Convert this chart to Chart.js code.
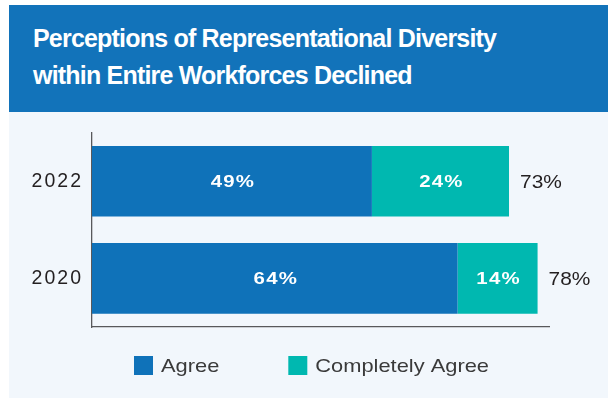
<!DOCTYPE html>
<html>
<head>
<meta charset="utf-8">
<script src="https://cdn.jsdelivr.net/npm/chart.js@4.4.0/dist/chart.umd.min.js"></script>
<style>
body{margin:0;background:#fff;width:608px;height:398px;overflow:hidden;position:relative;font-family:"Liberation Sans",Arial,sans-serif;}
#title{position:absolute;left:9px;top:5px;width:575px;height:92px;padding:15px 0 0 24px;background:#1273ba;color:#fff;font-weight:bold;font-size:25px;letter-spacing:-0.8px;line-height:36.5px;}
#wrap{position:absolute;left:9px;top:112px;width:599px;height:286px;background:#f2f7fc;}
</style>
</head>
<body>
<div id="title">Perceptions of Representational Diversity<br>within Entire Workforces Declined</div>
<div id="wrap"><canvas id="chart"></canvas></div>
<script>
// values
const years = ['2022', '2020'];
const agree = [49, 64];
const completelyAgree = [24, 14];
const totals = [73, 78];
const seriesNames = ['Agree', 'Completely Agree'];
const seriesColors = ['#0f72b9', '#00b8b0'];

const FONT = '"Liberation Sans", Arial, sans-serif';

// the source font is wider than Arial, so stretch our own text a bit
function wideText(ctx, text, x, y, sx){
  ctx.save();
  ctx.translate(x, y);
  ctx.scale(sx, 1);
  ctx.fillText(text, 0, 0);
  ctx.restore();
}

// value labels, totals and the legend row
const labelPlugin = {
  id: 'labels',
  beforeUpdate(chart){ chart.ctx.letterSpacing = '2px'; },
  beforeDraw(chart){ chart.ctx.letterSpacing = '2px'; },
  afterDatasetsDraw(chart){
    const ctx = chart.ctx;
    ctx.save();
    ctx.textBaseline = 'middle';
    ctx.textAlign = 'center';
    ctx.font = 'bold 17px ' + FONT;
    ctx.fillStyle = '#fff';
    ctx.letterSpacing = '1px';
    chart.data.datasets.forEach((ds, i) => {
      chart.getDatasetMeta(i).data.forEach((bar, j) => {
        wideText(ctx, ds.data[j] + '%', (bar.x + bar.base) / 2 + 1, bar.y + 1, 1.2);
      });
    });

    const last = chart.getDatasetMeta(chart.data.datasets.length - 1).data;
    ctx.textAlign = 'left';
    ctx.font = '19px ' + FONT;
    ctx.fillStyle = '#231f20';
    ctx.letterSpacing = '0px';
    last.forEach((bar, j) => {
      wideText(ctx, totals[j] + '%', bar.x + 11, bar.y + 1, 1.1);
    });
    ctx.restore();
  },
  afterDraw(chart){
    const ctx = chart.ctx;
    const area = chart.chartArea;
    ctx.save();
    ctx.font = '19px ' + FONT;
    ctx.letterSpacing = '0px';
    ctx.textBaseline = 'middle';
    ctx.textAlign = 'left';
    let x = area.left + 42;
    const y = area.bottom + 29;
    chart.data.datasets.forEach(ds => {
      ctx.fillStyle = ds.backgroundColor;
      ctx.fillRect(x, y, 19, 19);
      ctx.fillStyle = '#3a3a3a';
      wideText(ctx, ds.label, x + 27, y + 10.5, 1.15);
      x += 27 + ctx.measureText(ds.label).width * 1.15 + 69;
    });
    ctx.restore();
  }
};

const ctx = document.getElementById('chart').getContext('2d');

const chart = new Chart(ctx, {
  type: 'bar',
  data: {
    labels: years,
    datasets: [
      { label: seriesNames[0], data: agree, backgroundColor: seriesColors[0] },
      { label: seriesNames[1], data: completelyAgree, backgroundColor: seriesColors[1] }
    ]
  },
  options: {
    indexAxis: 'y',
    responsive: true,
    maintainAspectRatio: false,
    animation: false,
    barPercentage: 0.727,
    categoryPercentage: 1,
    layout: { padding: { top: 17, right: 59, bottom: 71, left: 0 } },
    plugins: {
      legend: { display: false },
      tooltip: { enabled: false }
    },
    scales: {
      x: {
        stacked: true,
        min: 0,
        max: 80,
        grid: { display: false, drawTicks: false },
        ticks: { display: false },
        border: { display: true, color: '#58595b', width: 1.3 },
        afterFit(scale){ scale.height = 0; }
      },
      y: {
        stacked: true,
        grid: { display: false, drawTicks: false },
        border: { display: true, color: '#58595b', width: 1.3 },
        ticks: { color: '#231f20', font: { family: FONT, size: 19.5 }, padding: 9 },
        afterFit(scale){ scale.width = 83; }
      }
    }
  },
  plugins: [labelPlugin]
});
</script>
</body>
</html>
